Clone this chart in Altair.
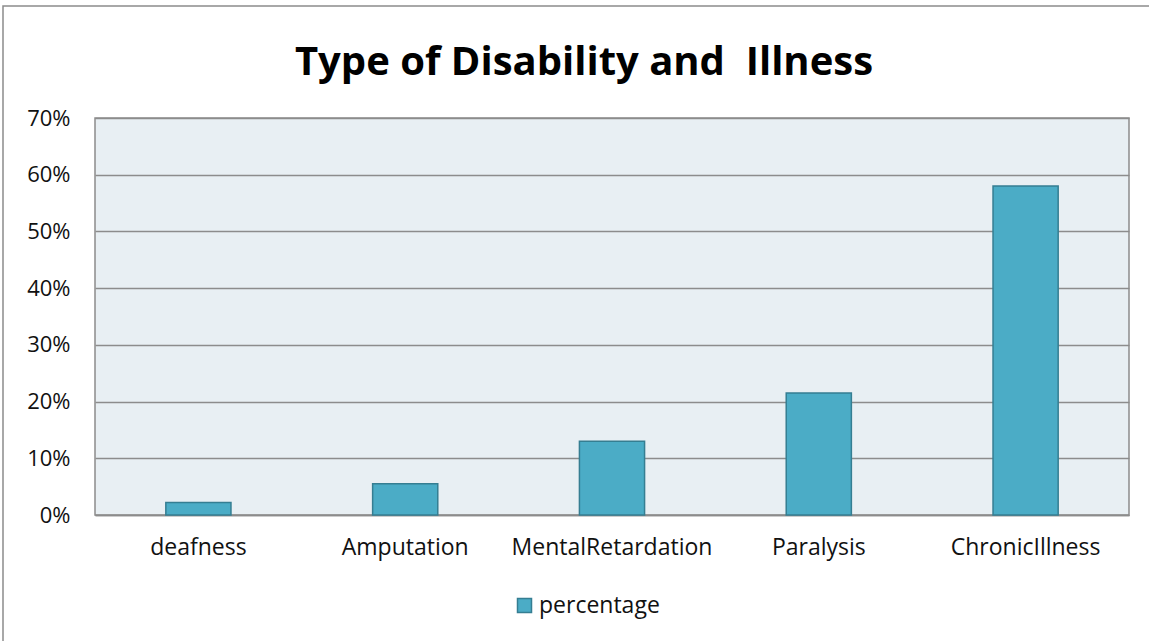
import altair as alt
import pandas as pd

# Share of respondents by type of disability / illness
categories = ["deafness", "Amputation", "MentalRetardation", "Paralysis", "ChronicIllness"]
percentage = [0.022, 0.055, 0.13, 0.215, 0.58]
series_name = "percentage"
y_ticks = [0.0, 0.1, 0.2, 0.3, 0.4, 0.5, 0.6, 0.7]

df = pd.DataFrame({"category": categories, "value": percentage, "series": series_name})

FONT = "Open Sans"
PLOT_W, PLOT_H = 1034, 397
LEFT, TOP = 95, 118

bars = alt.Chart(df).mark_bar(
    stroke="#357E92", strokeWidth=1.5, fill="#4BACC6"
).encode(
    x=alt.X(
        "category:N",
        sort=categories,
        title=None,
        scale=alt.Scale(paddingInner=0.685, paddingOuter=0.3425),
        axis=alt.Axis(
            labelAngle=0, labelFont=FONT, labelFontSize=23, labelColor="#111111",
            labelPadding=21, labelLimit=400, ticks=False, domain=True,
            domainColor="#8C8C8C", domainWidth=1.5, grid=False,
        ),
    ),
    y=alt.Y(
        "value:Q",
        title=None,
        scale=alt.Scale(domain=[0, 0.7]),
        axis=alt.Axis(
            values=y_ticks, format=".0%", labelFont=FONT, labelFontSize=22,
            labelColor="#111111", labelPadding=25, ticks=False, domain=False,
            gridColor="#8C8C8C", gridWidth=1.5,
        ),
    ),
    fill=alt.Fill(
        "series:N",
        scale=alt.Scale(range=["#4BACC6"]),
        legend=alt.Legend(
            title=None, orient="none", legendX=418, legendY=476,
            symbolType="square", symbolSize=196, symbolStrokeColor="#357E92",
            symbolStrokeWidth=1.5, labelFont=FONT, labelFontSize=23,
            labelColor="#111111", labelOffset=3,
        ),
    ),
)

# outer frame around the whole chart
frame = alt.Chart(pd.DataFrame({"k": [0]})).mark_rect(
    fill=None, stroke="#8C8C8C", strokeWidth=1.5
).encode(
    x=alt.value(3 - LEFT), x2=alt.value(1300),
    y=alt.value(6 - TOP), y2=alt.value(800),
)

chart = alt.layer(frame, bars).properties(
    width=PLOT_W,
    height=PLOT_H,
    title=alt.TitleParams(
        "Type of Disability and\u00a0 Illness",
        font=FONT, fontSize=40, fontWeight="bold", color="#000000",
        anchor="middle", dx=-28, offset=0, dy=78,
    ),
    autosize=alt.AutoSizeParams(type="none"),
    padding={"left": LEFT, "top": TOP, "right": 1149 - LEFT - PLOT_W, "bottom": 641 - TOP - PLOT_H},
    background="#FFFFFF",
).configure_view(
    fill="#E8EFF3", stroke="#8C8C8C", strokeWidth=1.5
)

chart.save("out.html", embed_options={"renderer": "svg", "actions": False})
